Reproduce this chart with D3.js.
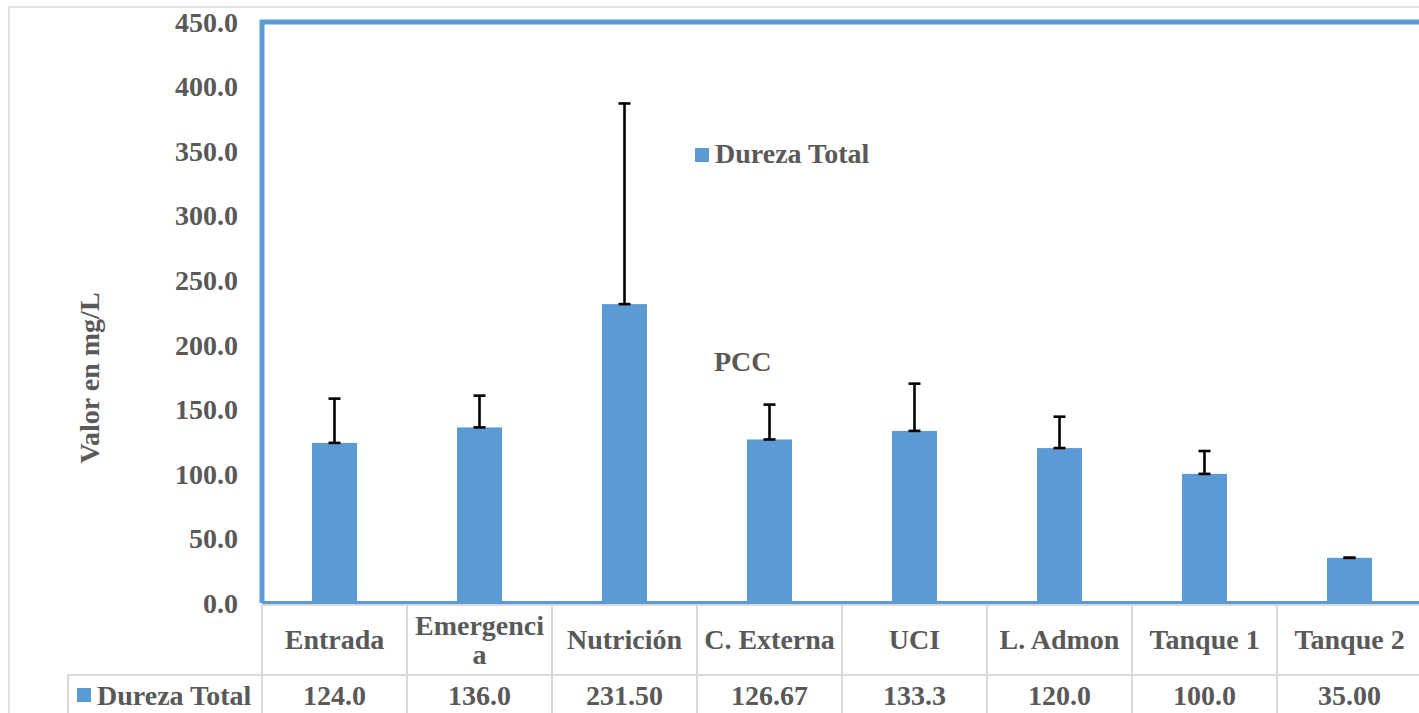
<!DOCTYPE html>
<html><head><meta charset="utf-8">
<script src="https://cdn.jsdelivr.net/npm/d3@7"></script>
<style>
html,body{margin:0;padding:0;background:#fff;overflow:hidden;}
svg text{font-family:"Liberation Serif","Times New Roman",serif !important;font-weight:bold !important;fill:#595959;}
</style></head>
<body>
<svg id="chart" width="1419" height="713"></svg>
<script>
const categories = ["Entrada","Emergencia","Nutrición","C. Externa","UCI","L. Admon","Tanque 1","Tanque 2"];
const values = [124.0,136.0,231.5,126.67,133.3,120.0,100.0,35.0];
const valueLabels = ["124.0","136.0","231.50","126.67","133.3","120.0","100.0","35.00"];
const errPlus = [34.3,24.6,155.4,27.0,36.6,24.3,17.7,0];
const yTicks = [0,50,100,150,200,250,300,350,400,450];
const seriesName = "Dureza Total";
const yTitle = "Valor en mg/L";
const annotation = "PCC";

const svg = d3.select("#chart");
const W = 1419, H = 713;
const blue = "#5b9bd5", grid = "#d9d9d9";
const FS = 28;
const plotL = 262, plotR = 1422, plotT = 22, plotB = 603;
const tableB = 675;

function txt(sel){ return sel.style("font-family","'Liberation Serif',serif").style("font-weight","bold").attr("fill","#595959"); }

// outer chart border
svg.append("rect").attr("x",9).attr("y",7).attr("width",W+20).attr("height",H+20)
  .attr("fill","none").attr("stroke",grid).attr("stroke-width",1.5);

const x = d3.scaleBand().domain(categories).range([plotL,plotR]).padding(0);
const y = d3.scaleLinear().domain([0,450]).range([plotB,plotT]);
const barW = x.bandwidth()*0.31;

// y-axis labels
const yAxis = d3.axisLeft(y).tickValues(yTicks).tickFormat(d3.format(".1f")).tickSize(0).tickPadding(0);
const ga = svg.append("g").attr("transform",`translate(238,0)`).call(yAxis);
ga.select(".domain").remove();
txt(ga.selectAll("text").attr("font-size",FS).attr("dy","0.33em"));

// y title
txt(svg.append("text").attr("transform",`translate(99,378) rotate(-90)`).attr("text-anchor","middle")
  .attr("font-size",FS).text(yTitle));

// bars
svg.append("g").selectAll("rect").data(categories).join("rect")
  .attr("x",d=>x(d)+(x.bandwidth()-barW)/2)
  .attr("y",(d,i)=>y(values[i]))
  .attr("width",barW)
  .attr("height",(d,i)=>y(0)-y(values[i]))
  .attr("fill",blue);

// error bars
const eg = svg.append("g").attr("stroke","#000").attr("stroke-width",2.6);
categories.forEach((c,i)=>{
  const cx = x(c)+x.bandwidth()/2;
  const y1 = y(values[i]), y2 = y(values[i]+errPlus[i]);
  eg.append("line").attr("x1",cx).attr("x2",cx).attr("y1",y1).attr("y2",y2);
  eg.append("line").attr("x1",cx-6).attr("x2",cx+6).attr("y1",y1).attr("y2",y1);
  eg.append("line").attr("x1",cx-6).attr("x2",cx+6).attr("y1",y2).attr("y2",y2);
});

// plot area border (blue)
svg.append("path").attr("d",`M${plotR+10},${plotT} H${plotL} V${plotB}`)
  .attr("fill","none").attr("stroke",blue).attr("stroke-width",5);
svg.append("line").attr("x1",plotL).attr("x2",plotR+10).attr("y1",plotB-0.5).attr("y2",plotB-0.5)
  .attr("stroke",blue).attr("stroke-width",3);

// legend
svg.append("rect").attr("x",695).attr("y",148).attr("width",14).attr("height",14).attr("fill",blue);
txt(svg.append("text").attr("x",715).attr("y",163).attr("font-size",FS).text(seriesName));

// annotation
txt(svg.append("text").attr("x",714).attr("y",371).attr("font-size",FS).text(annotation));

// data table grid
const tg = svg.append("g").attr("stroke",grid).attr("stroke-width",2);
tg.append("line").attr("x1",plotL).attr("x2",plotR+10).attr("y1",605).attr("y2",605);
tg.append("line").attr("x1",68).attr("x2",plotR+10).attr("y1",tableB).attr("y2",tableB);
tg.append("line").attr("x1",68).attr("x2",68).attr("y1",tableB).attr("y2",H+5);
categories.forEach(c=>{
  tg.append("line").attr("x1",x(c)).attr("x2",x(c)).attr("y1",605).attr("y2",H+5);
});
tg.append("line").attr("x1",plotR).attr("x2",plotR).attr("y1",605).attr("y2",H+5);

// header labels with wrapping
const maxW = 136;
categories.forEach(c=>{
  const cx = x(c)+x.bandwidth()/2;
  const t = txt(svg.append("text").attr("x",cx).attr("text-anchor","middle").attr("font-size",FS));
  t.text(c);
  let lines = [c];
  if (t.node().getComputedTextLength() > maxW) {
    let k = c.length;
    while (k>1) { t.text(c.slice(0,k)); if (t.node().getComputedTextLength() <= maxW) break; k--; }
    lines = [c.slice(0,k), c.slice(k)];
  }
  t.text(null);
  if (lines.length===1) {
    t.append("tspan").attr("x",cx).attr("y",649).text(lines[0]);
  } else {
    t.append("tspan").attr("x",cx).attr("y",635).text(lines[0]);
    t.append("tspan").attr("x",cx).attr("y",664).text(lines[1]);
  }
});

// table row: legend key + values
svg.append("rect").attr("x",77).attr("y",688).attr("width",14).attr("height",14).attr("fill",blue);
txt(svg.append("text").attr("x",97).attr("y",705).attr("font-size",FS).text(seriesName));
categories.forEach((c,i)=>{
  txt(svg.append("text").attr("x",x(c)+x.bandwidth()/2).attr("y",705).attr("text-anchor","middle")
    .attr("font-size",FS).text(valueLabels[i]));
});
</script>
</body></html>
